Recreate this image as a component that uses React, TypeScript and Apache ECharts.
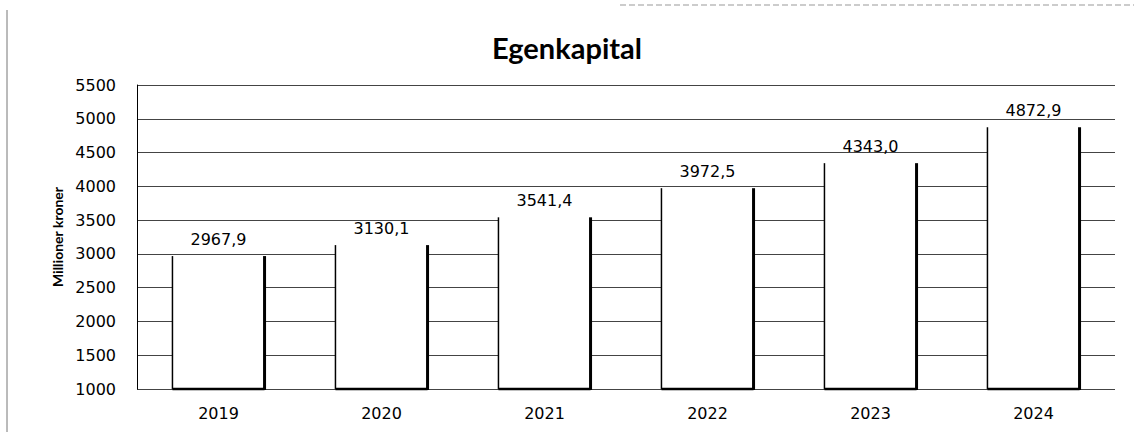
import React, { useEffect, useRef } from "react";
import * as echarts from "echarts";

const title = "Egenkapital";
const yAxisName = "Millioner kroner";
const years = ["2019", "2020", "2021", "2022", "2023", "2024"];
const values = [2967.9, 3130.1, 3541.4, 3972.5, 4343.0, 4872.9];
const yMin = 1000;
const yMax = 5500;
const yStep = 500;

const fmt = (v: number) => v.toFixed(1).replace(".", ",");

export default function App() {
  const ref = useRef<HTMLDivElement>(null);
  useEffect(() => {
    document.body.style.margin = "0";
    const chart = echarts.init(ref.current!, null, { renderer: "svg" });
    chart.setOption({
      animation: false,
      backgroundColor: "#ffffff",
      title: {
        text: title,
        left: "center",
        top: 28,
        textStyle: { fontFamily: "Lato", fontWeight: "bold", fontSize: 29, color: "#000" },
      },
      grid: { left: 137, right: 19, top: 85, bottom: 43 },
      xAxis: {
        type: "category",
        data: years,
        axisLine: { show: false },
        axisTick: { show: false },
        axisLabel: { fontFamily: "DejaVu Sans", fontSize: 16, color: "#000", margin: 16 },
      },
      yAxis: {
        type: "value",
        min: yMin,
        max: yMax,
        interval: yStep,
        name: yAxisName,
        nameLocation: "middle",
        nameGap: 66,
        nameTextStyle: { fontFamily: "Lato", fontWeight: "bold", fontSize: 14, color: "#000" },
        axisLine: { show: true, lineStyle: { color: "#000", width: 1 } },
        axisTick: { show: false },
        axisLabel: {
          fontFamily: "DejaVu Sans",
          fontSize: 16,
          color: "#000",
          margin: 21,
          formatter: (v: number) => String(v),
        },
        splitLine: { lineStyle: { color: "#444", width: 1 } },
      },
      series: [
        {
          type: "custom",
          data: values.map((v, i) => [i, v]),
          encode: { x: 0, y: 1 },
          renderItem: (params: any, api: any) => {
            const idx = api.value(0);
            const val = api.value(1);
            const top = api.coord([idx, val]);
            const base = api.coord([idx, yMin]);
            const bw = (api.size([1, 0])[0] as number) * 0.565;
            const x0 = top[0] - bw / 2;
            const x1 = top[0] + bw / 2;
            return {
              type: "group",
              children: [
                { type: "rect", shape: { x: x0, y: top[1], width: bw, height: base[1] - top[1] }, style: { fill: "#fff" } },
                { type: "line", shape: { x1: x0, y1: top[1], x2: x0, y2: base[1] }, style: { stroke: "#000", lineWidth: 1.5 } },
                { type: "line", shape: { x1: x0, y1: base[1], x2: x1, y2: base[1] }, style: { stroke: "#000", lineWidth: 2.5 } },
                { type: "line", shape: { x1: x1, y1: top[1], x2: x1, y2: base[1] + 1 }, style: { stroke: "#000", lineWidth: 3 } },
                {
                  type: "text",
                  style: {
                    text: fmt(val),
                    x: top[0],
                    y: top[1] - 17,
                    align: "center",
                    verticalAlign: "middle",
                    fontFamily: "DejaVu Sans",
                    fontSize: 16,
                    fill: "#000",
                  },
                },
              ],
            };
          },
        },
      ],
      graphic: [
        { type: "line", shape: { x1: 7, y1: 10, x2: 7, y2: 432 }, style: { stroke: "#777", lineWidth: 1 } },
        { type: "line", shape: { x1: 620, y1: 5, x2: 1134, y2: 5 }, style: { stroke: "#999", lineWidth: 1, lineDash: [6, 3] } },
      ],
    });
    return () => chart.dispose();
  }, []);
  return <div ref={ref} style={{ position: "absolute", left: 0, top: 0, width: 1134, height: 432 }} />;
}
